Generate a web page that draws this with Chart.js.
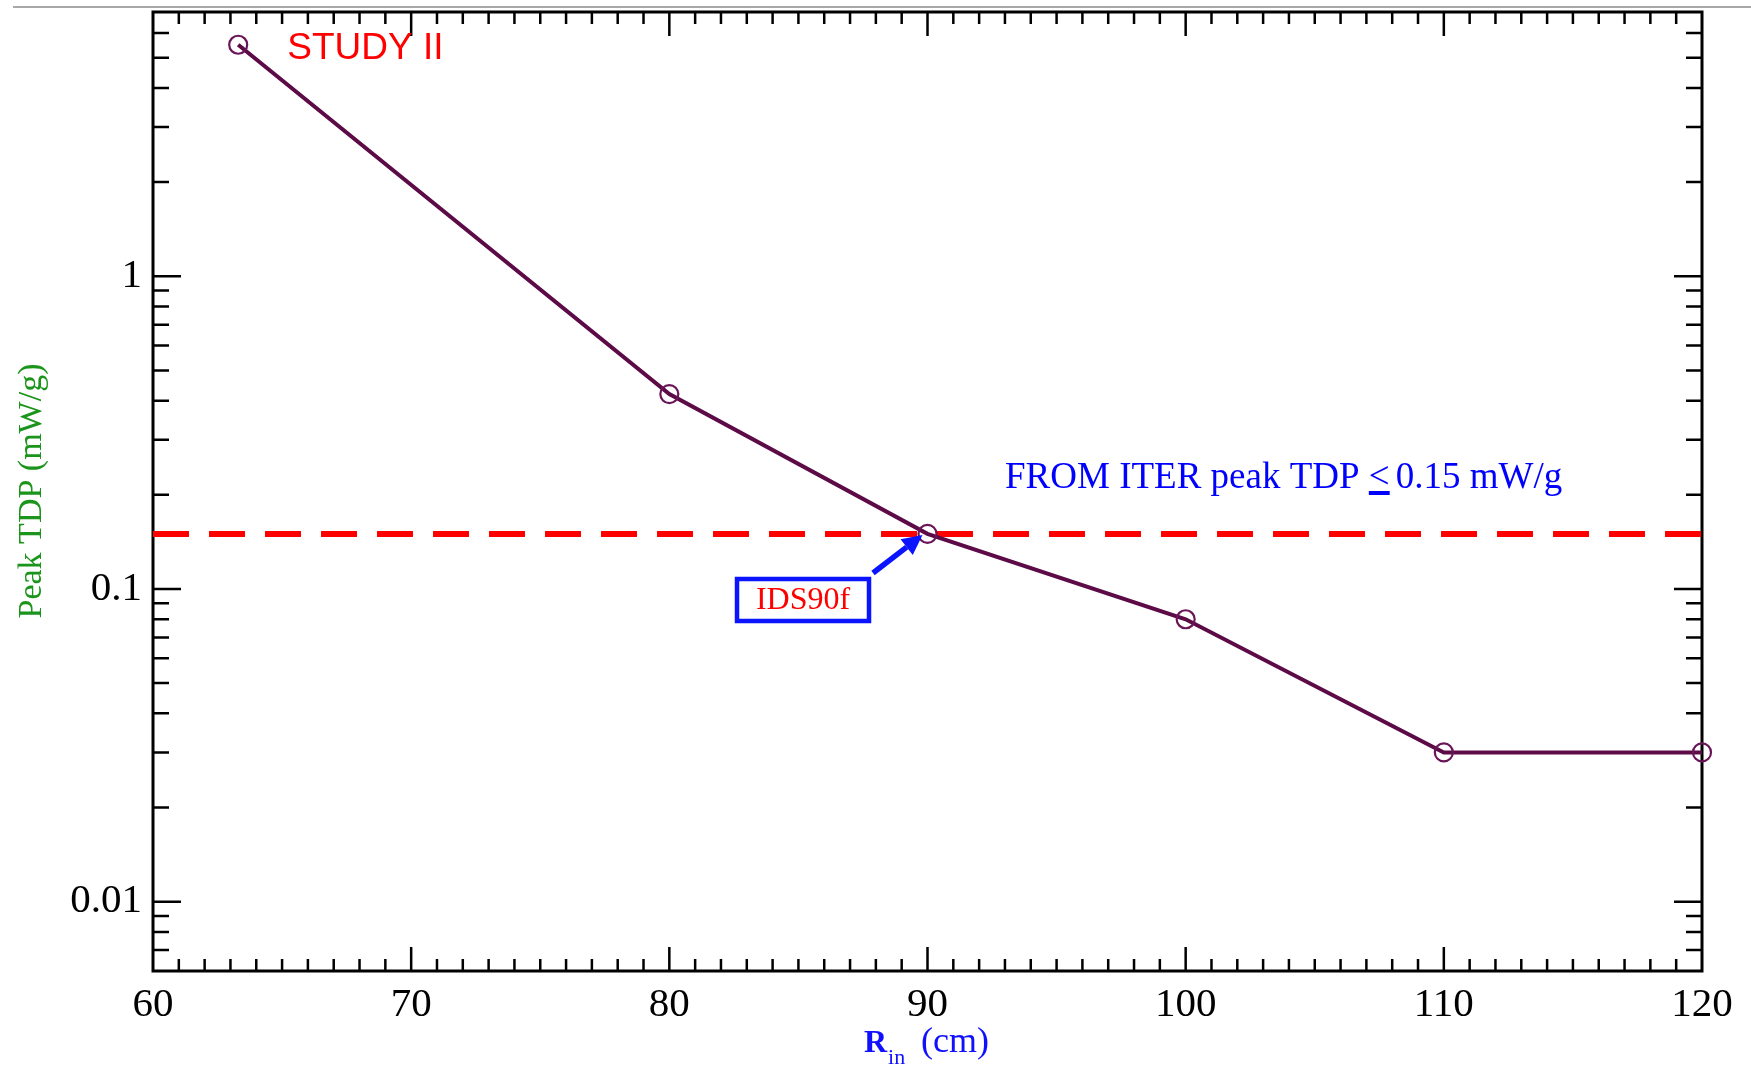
<!DOCTYPE html>
<html>
<head>
<meta charset="utf-8">
<script src="https://cdn.jsdelivr.net/npm/chart.js@4.4.1/dist/chart.umd.min.js"></script>
<style>
  html, body { margin: 0; padding: 0; background: #fff; }
  canvas { display: block; }
</style>
</head>
<body>
<canvas id="myChart" width="1751" height="1069"></canvas>
<script>
// Peak TDP vs inner radius
const rIn = [63.3, 80, 90, 100, 110, 120]
const peakTdp = [5.5, 0.42, 0.15, 0.08, 0.03, 0.03]

// ITER limit (dashed red line)
const limitX = [60, 120]
const limitY = [0.15, 0.15]

// tick labels
const xTicks = [60, 70, 80, 90, 100, 110, 120]
const yTicks = [0.01, 0.1, 1]

const SERIF = '"Liberation Serif", "Times New Roman", serif'
const SANS = '"Liberation Sans", Arial, sans-serif'

// frame + inward ticks on all four sides
const frameTicks = {
    id: 'frameTicks',
    beforeDraw(chart) {
        const ctx = chart.ctx
        ctx.save()
        ctx.strokeStyle = '#a8a8a8'
        ctx.lineWidth = 2
        ctx.beginPath()
        ctx.moveTo(13, 7)
        ctx.lineTo(1751, 7)
        ctx.stroke()
        ctx.restore()
    },
    beforeDatasetsDraw(chart) {
        const { ctx, chartArea: a, scales: { x, y } } = chart
        ctx.save()
        ctx.strokeStyle = '#000'
        ctx.lineWidth = 2.5
        ctx.beginPath()
        for (let v = x.min + 1; v < x.max; v++) {
            const px = x.getPixelForValue(v)
            const len = v % 10 === 0 ? 24 : 12
            ctx.moveTo(px, a.bottom)
            ctx.lineTo(px, a.bottom - len)
            ctx.moveTo(px, a.top)
            ctx.lineTo(px, a.top + len)
        }
        for (let d = -3; d <= 1; d++) {
            for (let k = 1; k <= 9; k++) {
                const v = k * Math.pow(10, d)
                if (v <= y.min || v >= y.max) continue
                const py = y.getPixelForValue(v)
                const len = k === 1 ? 28 : 16
                ctx.moveTo(a.left, py)
                ctx.lineTo(a.left + len, py)
                ctx.moveTo(a.right, py)
                ctx.lineTo(a.right - len, py)
            }
        }
        ctx.stroke()

        ctx.lineWidth = 3
        ctx.strokeRect(a.left, a.top, a.right - a.left, a.bottom - a.top)
        ctx.restore()
    }
}

// texts and the arrow
const notes = {
    id: 'notes',
    afterDraw(chart) {
        const { ctx, chartArea: a, scales: { x, y } } = chart
        ctx.save()

        // y axis title
        ctx.fillStyle = '#1a941a'
        ctx.font = '34px ' + SERIF
        ctx.textAlign = 'center'
        ctx.textBaseline = 'middle'
        ctx.translate(32, 491)
        ctx.rotate(-Math.PI / 2)
        ctx.fillText('Peak TDP (mW/g)', 0, 0)
        ctx.setTransform(1, 0, 0, 1, 0, 0)

        // x axis title with subscript
        ctx.fillStyle = '#1010ff'
        ctx.textAlign = 'left'
        ctx.textBaseline = 'alphabetic'
        ctx.font = 'bold 32px ' + SERIF
        ctx.fillText('R', 864, 1052)
        let w = ctx.measureText('R').width
        ctx.font = '22px ' + SERIF
        ctx.fillText('in', 864 + w + 1, 1064)
        ctx.font = '36px ' + SERIF
        ctx.fillText('(cm)', 921, 1052)

        // STUDY II
        ctx.fillStyle = '#ff0000'
        ctx.font = '37px ' + SANS
        ctx.textBaseline = 'middle'
        ctx.fillText('STUDY II', x.getPixelForValue(65.2), 49)

        // ITER limit text
        ctx.fillStyle = '#0000ff'
        ctx.font = '37px ' + SERIF
        ctx.textBaseline = 'alphabetic'
        const tx = 1005, ty = 488
        const pre = 'FROM ITER peak TDP '
        ctx.fillText(pre + '<', tx, ty)
        const preW = ctx.measureText(pre).width
        const ltW = ctx.measureText('<').width
        ctx.fillRect(tx + preW, ty + 3, ltW, 4)
        ctx.fillText('0.15 mW/g', tx + preW + ltW + 6, ty)

        // IDS90f box
        const bx = 737, by = 579, bw = 132, bh = 42
        ctx.strokeStyle = '#0a14ff'
        ctx.lineWidth = 4.5
        ctx.strokeRect(bx, by, bw, bh)
        ctx.fillStyle = '#ff0000'
        ctx.font = '32px ' + SERIF
        ctx.textAlign = 'center'
        ctx.textBaseline = 'middle'
        ctx.fillText('IDS90f', bx + bw / 2, by + bh / 2 + 1)

        // arrow towards the 90 cm point
        const tipX = x.getPixelForValue(90) - 5
        const tipY = y.getPixelForValue(0.15) + 1
        const tailX = bx + bw + 4, tailY = by - 6
        const ang = Math.atan2(tipY - tailY, tipX - tailX)
        const hl = 20, hw = 10
        const baseX = tipX - hl * Math.cos(ang), baseY = tipY - hl * Math.sin(ang)
        ctx.strokeStyle = '#0a14ff'
        ctx.fillStyle = '#0a14ff'
        ctx.lineWidth = 5.5
        ctx.beginPath()
        ctx.moveTo(tailX, tailY)
        ctx.lineTo(baseX, baseY)
        ctx.stroke()
        ctx.beginPath()
        ctx.moveTo(tipX, tipY)
        ctx.lineTo(baseX + hw * Math.sin(ang), baseY - hw * Math.cos(ang))
        ctx.lineTo(baseX - hw * Math.sin(ang), baseY + hw * Math.cos(ang))
        ctx.closePath()
        ctx.fill()

        ctx.restore()
    }
}

// no extra room for half-labels at the scale ends
const noEdgePad = s => {
    s.paddingTop = 0
    s.paddingBottom = 0
    s.paddingLeft = 0
    s.paddingRight = 0
}

const chart = document.getElementById('myChart').getContext('2d')

new Chart(chart, {
    type: 'line',
    data: {
        datasets: [
            {
                label: 'Peak TDP',
                data: rIn.map((r, i) => ({ x: r, y: peakTdp[i] })),
                borderColor: '#5c0b47',
                borderWidth: 4,
                pointStyle: 'circle',
                pointRadius: 9,
                pointBorderWidth: 2.2,
                pointBorderColor: '#6a1557',
                pointBackgroundColor: 'rgba(0,0,0,0)',
                tension: 0,
                clip: false,
                order: 1
            },
            {
                label: 'ITER limit',
                data: limitX.map((r, i) => ({ x: r, y: limitY[i] })),
                borderColor: '#ff0000',
                borderWidth: 6,
                borderDash: [36, 20],
                pointRadius: 0,
                order: 2
            }
        ]
    },
    options: {
        responsive: false,
        animation: false,
        devicePixelRatio: 1,
        events: [],
        layout: { padding: { top: 12, right: 49, left: 0, bottom: 0 } },
        plugins: {
            legend: { display: false },
            tooltip: { enabled: false }
        },
        scales: {
            x: {
                type: 'linear',
                min: 60,
                max: 120,
                afterBuildTicks: s => { s.ticks = xTicks.map(v => ({ value: v })) },
                afterFit: s => { s.height = 1069 - 971; noEdgePad(s) },
                grid: { display: false, drawTicks: false },
                border: { display: false },
                ticks: {
                    color: '#000',
                    padding: 10,
                    maxRotation: 0,
                    autoSkip: false,
                    font: { family: SERIF, size: 41 }
                }
            },
            y: {
                type: 'logarithmic',
                min: 0.006,
                max: 7,
                afterBuildTicks: s => { s.ticks = yTicks.map(v => ({ value: v })) },
                afterFit: s => { s.width = 153; noEdgePad(s) },
                grid: { display: false, drawTicks: false },
                border: { display: false },
                ticks: {
                    color: '#000',
                    padding: 11,
                    autoSkip: false,
                    font: { family: SERIF, size: 41 },
                    callback: v => String(v)
                }
            }
        }
    },
    plugins: [frameTicks, notes]
})
</script>
</body>
</html>
